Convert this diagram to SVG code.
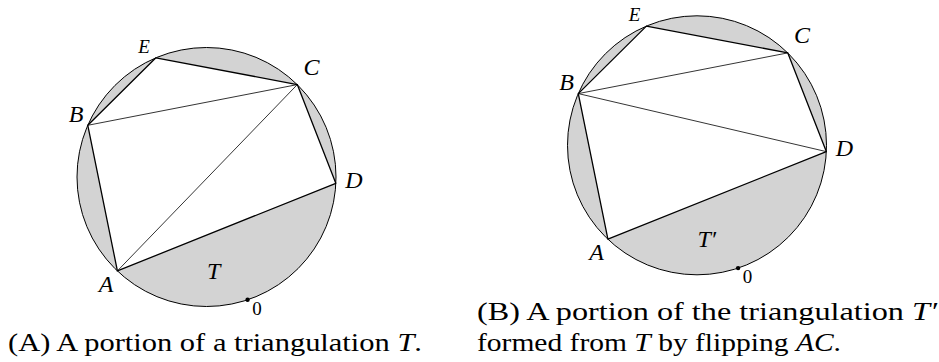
<svg xmlns="http://www.w3.org/2000/svg" width="939" height="362" viewBox="0 0 939 362">
<style>
.disk{fill:#d3d3d3;stroke:#000;stroke-width:1}
.poly{fill:#fff;stroke:none}
.side{stroke:#000;stroke-width:1.3;fill:none;stroke-linejoin:round}
.diag{stroke:#000;stroke-width:0.8;fill:none;stroke-linecap:round}
.lbl{font-family:'Liberation Serif',serif;font-style:italic;font-size:24px;fill:#000;text-anchor:middle}
.small{font-size:19px}
.zero{font-family:'Liberation Serif',serif;font-size:19px;fill:#000;text-anchor:middle}
.cap{font-family:'Liberation Serif',serif;font-size:26px;fill:#000}
.it{font-style:italic}
</style>
<rect width="939" height="362" fill="#fff"/>
<g id="figA">
  <circle class="disk" cx="206.5" cy="177" r="129.5"/>
  <polygon class="poly" points="117.4,270.9 87.8,125.3 155.9,57.8 297.3,84.6 335.8,183.3"/>
  <g id="edgesA">
    <polygon class="side" points="117.4,270.9 87.8,125.3 155.9,57.8 297.3,84.6 335.8,183.3"/>
    <line class="diag" x1="87.8" y1="125.3" x2="297.3" y2="84.6"/>
    <line class="diag" x1="117.4" y1="270.9" x2="297.3" y2="84.6"/>
  </g>
  <circle cx="247.6" cy="299.8" r="2.2" fill="#000"/>
  <g id="labelsA">
    <text class="lbl small" x="144" y="53">E</text>
    <text class="lbl" x="311.5" y="75">C</text>
    <text class="lbl" x="76" y="121.5">B</text>
    <text class="lbl" x="354" y="188">D</text>
    <text class="lbl" x="106" y="291.5">A</text>
    <text class="lbl" x="207" y="278.5" style="text-anchor:start">T</text>
    <text class="zero" x="257" y="315">0</text>
  </g>
</g>
<g id="figB" transform="translate(490.5,-31.7)">
  <circle class="disk" cx="206.5" cy="177" r="129.5"/>
  <polygon class="poly" points="117.4,270.9 87.8,125.3 155.9,57.8 297.3,84.6 335.8,183.3"/>
  <g id="edgesB">
    <polygon class="side" points="117.4,270.9 87.8,125.3 155.9,57.8 297.3,84.6 335.8,183.3"/>
    <line class="diag" x1="87.8" y1="125.3" x2="297.3" y2="84.6"/>
    <line class="diag" x1="87.8" y1="125.3" x2="335.8" y2="183.3"/>
  </g>
  <circle cx="247.6" cy="299.8" r="2.2" fill="#000"/>
  <g id="labelsB">
    <text class="lbl small" x="144" y="53">E</text>
    <text class="lbl" x="311.5" y="75">C</text>
    <text class="lbl" x="76" y="121.5">B</text>
    <text class="lbl" x="354" y="188">D</text>
    <text class="lbl" x="106" y="291.5">A</text>
    <text class="lbl" x="207" y="278.5" style="text-anchor:start">T′</text>
    <text class="zero" x="257" y="315">0</text>
  </g>
</g>
<g id="captions">
  <text class="cap" x="8" y="351" textLength="414" lengthAdjust="spacingAndGlyphs">(A) A portion of a triangulation <tspan class="it">T</tspan>.</text>
  <text class="cap" x="477" y="320" textLength="460" lengthAdjust="spacingAndGlyphs">(B) A portion of the triangulation <tspan class="it">T′</tspan></text>
  <text class="cap" x="477" y="351" textLength="364" lengthAdjust="spacingAndGlyphs">formed from <tspan class="it">T</tspan> by flipping <tspan class="it">AC</tspan>.</text>
</g>
</svg>
